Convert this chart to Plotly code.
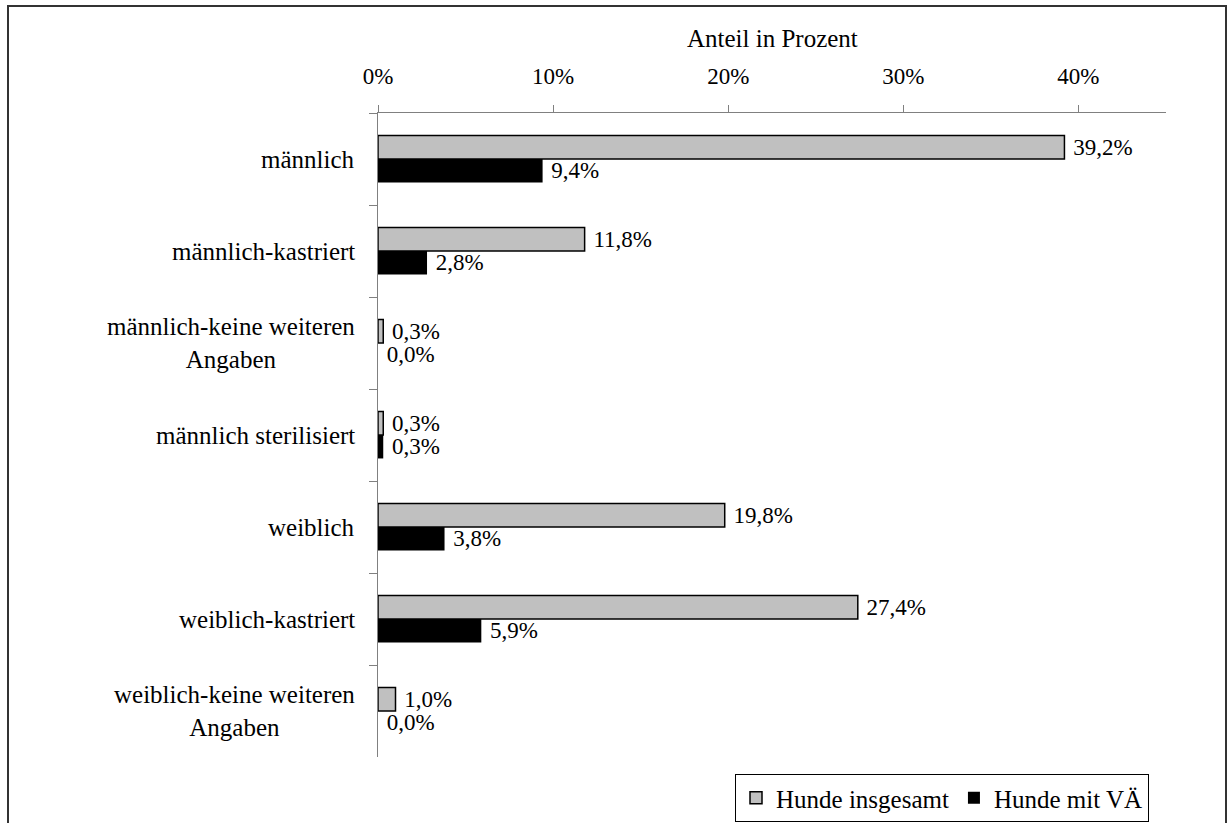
import plotly.graph_objects as go

# Categories (top to bottom) and shares in percent
categories = [
    "männlich",
    "männlich-kastriert",
    "männlich-keine weiteren<br>Angaben",
    "männlich sterilisiert",
    "weiblich",
    "weiblich-kastriert",
    "weiblich-keine weiteren<br>Angaben",
]
hunde_insgesamt = [39.2, 11.8, 0.3, 0.3, 19.8, 27.4, 1.0]
hunde_mit_vae = [9.4, 2.8, 0.0, 0.3, 3.8, 5.9, 0.0]
x_ticks = [0, 10, 20, 30, 40]
x_tick_labels = ["0%", "10%", "20%", "30%", "40%"]

FONT = "Liberation Serif, Times New Roman, serif"
W, H = 1229, 823
M_L, M_R, M_T, M_B = 378, 63, 113, 66
plot_w = W - M_L - M_R
plot_h = H - M_T - M_B


def fmt(v):
    return "\u00a0" + f"{v:.1f}".replace(".", ",") + "%"


def px_x(px):
    return (px - M_L) / plot_w


def px_y(py):
    return (H - M_B - py) / plot_h


fig = go.Figure()
fig.add_trace(go.Bar(
    name="Hunde insgesamt",
    y=categories, x=hunde_insgesamt, orientation="h",
    marker=dict(color="#C0C0C0", line=dict(color="black", width=1.5)),
    text=[fmt(v) for v in hunde_insgesamt],
    textposition="outside", cliponaxis=False, constraintext="none",
    textfont=dict(family=FONT, size=23, color="black"),
    hoverinfo="skip",
))
fig.add_trace(go.Bar(
    name="Hunde mit VÄ",
    y=categories, x=hunde_mit_vae, orientation="h",
    marker=dict(color="black", line=dict(color="black", width=0)),
    text=[fmt(v) for v in hunde_mit_vae],
    textposition="outside", cliponaxis=False, constraintext="none",
    textfont=dict(family=FONT, size=23, color="black"),
    hoverinfo="skip",
))

# Category labels: right-aligned block, lines centred
annotations = []
for c in categories:
    annotations.append(dict(
        xref="paper", yref="y", x=0, y=c, xanchor="right", yanchor="middle",
        xshift=-21, text=c, showarrow=False, align="center",
        font=dict(family=FONT, size=25, color="black"),
    ))
annotations.append(dict(
    xref="paper", yref="paper", x=0.5, y=px_y(38), xanchor="center",
    yanchor="middle", text="Anteil in Prozent", showarrow=False,
    font=dict(family=FONT, size=25, color="black"),
))

fig.update_layout(
    width=W, height=H,
    margin=dict(l=M_L, r=M_R, t=M_T, b=M_B, pad=0, autoexpand=False),
    paper_bgcolor="white", plot_bgcolor="white",
    barmode="group", bargap=0.49, bargroupgap=0,
    font=dict(family=FONT, size=23, color="black"),
    annotations=annotations,
    showlegend=True,
    legend=dict(
        orientation="h", xanchor="right", yanchor="top",
        x=px_x(1149), y=px_y(774),
        bordercolor="black", borderwidth=1, bgcolor="white",
        font=dict(family=FONT, size=25, color="black"),
        traceorder="normal", itemclick=False, itemdoubleclick=False,
    ),
    shapes=[dict(
        type="rect", xref="paper", yref="paper",
        x0=px_x(8), x1=px_x(1226), y0=px_y(830), y1=px_y(6),
        line=dict(color="#333333", width=2), layer="below",
    )],
)

fig.update_xaxes(
    side="top", range=[0, 45], tickmode="array", tickvals=x_ticks,
    ticktext=x_tick_labels, ticks="outside", ticklen=7, tickcolor="#808080",
    ticklabelstandoff=12,
    showline=True, linecolor="#808080", linewidth=1,
    showgrid=False, zeroline=False,
    tickfont=dict(family=FONT, size=23, color="black"),
    fixedrange=True,
)
fig.update_yaxes(
    type="category", autorange="reversed",
    ticks="outside", tickson="boundaries", ticklen=8, tickcolor="#808080",
    showline=True, linecolor="#808080", linewidth=1,
    showgrid=False, zeroline=False, showticklabels=False,
    fixedrange=True,
)

fig.write_html("out.html", config={"displayModeBar": False})
